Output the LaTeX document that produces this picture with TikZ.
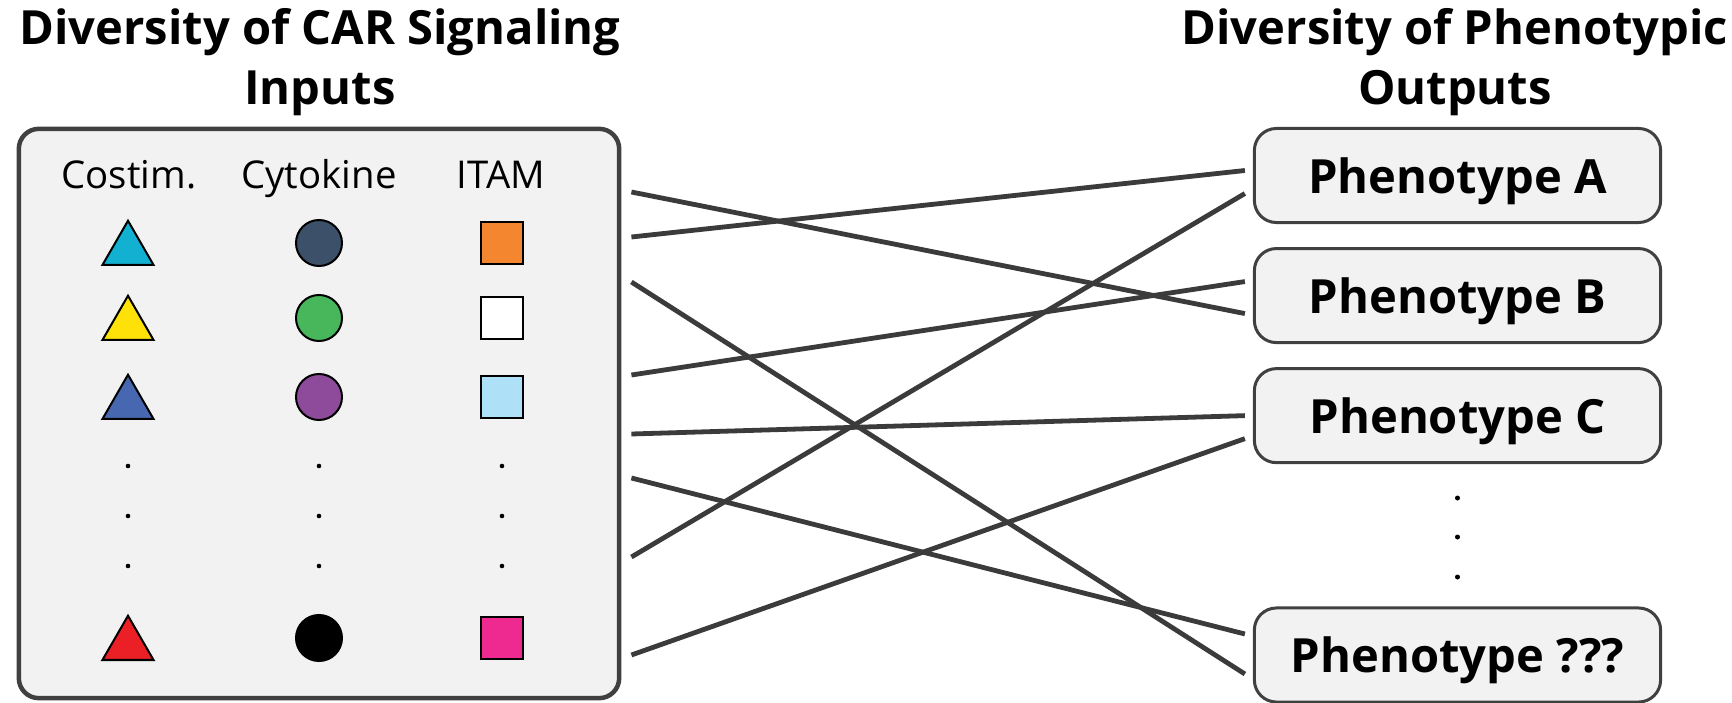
\documentclass[tikz,border=0pt]{standalone}
\usepackage{fontspec}
\setmainfont{Open Sans}
\usetikzlibrary{positioning,calc,shapes.geometric}
\definecolor{panel}{HTML}{F2F2F2}
\definecolor{edge}{HTML}{404040}
\definecolor{wirec}{HTML}{3B3B3B}
\definecolor{tricyan}{HTML}{12B1D1}
\definecolor{triyellow}{HTML}{FFE10A}
\definecolor{triblue}{HTML}{4767B1}
\definecolor{trired}{HTML}{EB2027}
\definecolor{dotslate}{HTML}{3C5069}
\definecolor{dotgreen}{HTML}{48B75C}
\definecolor{dotpurple}{HTML}{8E4B9B}
\definecolor{sqorange}{HTML}{F4862F}
\definecolor{sqsky}{HTML}{AEE0F7}
\definecolor{sqpink}{HTML}{EE2A91}

\begin{document}
\begin{tikzpicture}[
  x=0.01cm, y=-0.01cm,
  title/.style={align=center, font=\fontsize{13.4}{17}\selectfont\bfseries},
  head/.style={anchor=base, font=\fontsize{10.9}{13}\selectfont},
  panelbox/.style={draw=edge, fill=panel, line width=0.045cm, rounded corners=0.2cm},
  pheno/.style={draw=edge, fill=panel, line width=0.03cm, rounded corners=0.22cm,
                minimum width=4.06cm, minimum height=0.94cm, text height=0.35cm,
                text depth=0pt, font=\fontsize{13.4}{15}\selectfont\bfseries},
  tri/.style={draw, line width=0.02cm, regular polygon, regular polygon sides=3,
              minimum size=0.59cm, inner sep=0pt, anchor=south},
  blob/.style={draw, line width=0.02cm, circle, minimum size=0.46cm, inner sep=0pt},
  sq/.style={draw, line width=0.02cm, minimum width=0.42cm, minimum height=0.41cm,
             inner sep=0pt},
  wire/.style={draw=wirec, line width=0.048cm}
]
\useasboundingbox (0,0) rectangle (1732,703);

% inputs
\node[title] (intitle) at (320,62) {Diversity of CAR Signaling\\Inputs};
\node[panelbox, minimum width=6.0cm, minimum height=5.69cm] (inbox) at (319,413.5) {};
\node[head] (hcostim) at (129,188) {Costim.};
\node[head] (hcyto) at (319,188) {Cytokine};
\node[head] (hitam) at (501,188) {ITAM};

\node[tri, fill=tricyan] (cs1) at (128,266) {};
\node[tri, fill=triyellow] (cs2) at (128,341) {};
\node[tri, fill=triblue] (cs3) at (128,420) {};
\node[tri, fill=trired] (csn) at (128,661) {};

\node[blob, fill=dotslate] (ck1) at (319,243) {};
\node[blob, fill=dotgreen] (ck2) at (319,318) {};
\node[blob, fill=dotpurple] (ck3) at (319,397) {};
\node[blob, fill=black] (ckn) at (319,638) {};

\node[sq, fill=sqorange] (it1) at (502,243) {};
\node[sq, fill=white] (it2) at (502,318) {};
\node[sq, fill=sqsky] (it3) at (502,397) {};
\node[sq, fill=sqpink] (itn) at (502,638) {};

\foreach \x in {128,319,502}
  \foreach \y in {466,516,566}
    \fill (\x,\y) circle[radius=0.023cm];

% outputs
\node[title] (outtitle) at (1455,62) {Diversity of Phenotypic\\Outputs};
\node[pheno] (phA) at (1457.5,175.5) {Phenotype A};
\node[pheno, below=0.23cm of phA] (phB) {Phenotype B};
\node[pheno, below=0.23cm of phB] (phC) {Phenotype C};
\node[pheno] (phX) at (1457.5,655) {Phenotype ???};
\foreach \y in {498,537,577}
  \fill (1457.5,\y) circle[radius=0.025cm];

% wiring
\draw[wire] ($(inbox.east |- 0,192)+(10,0)$) -- ($(phB.west)+(-8,18)$);
\draw[wire] ($(inbox.east |- 0,237)+(10,0)$) -- ($(phA.west)+(-8,-5)$);
\draw[wire] ($(inbox.east |- 0,282)+(10,0)$) -- ($(phX.west)+(-8,19)$);
\draw[wire] ($(inbox.east |- 0,375)+(10,0)$) -- ($(phB.west)+(-8,-14)$);
\draw[wire] ($(inbox.east |- 0,434)+(10,0)$) -- ($(phC.west)+(-8,0)$);
\draw[wire] ($(inbox.east |- 0,478)+(10,0)$) -- ($(phX.west)+(-8,-21)$);
\draw[wire] ($(inbox.east |- 0,557)+(10,0)$) -- ($(phA.west)+(-8,18)$);
\draw[wire] ($(inbox.east |- 0,655)+(10,0)$) -- ($(phC.west)+(-8,23)$);
\end{tikzpicture}
\end{document}
